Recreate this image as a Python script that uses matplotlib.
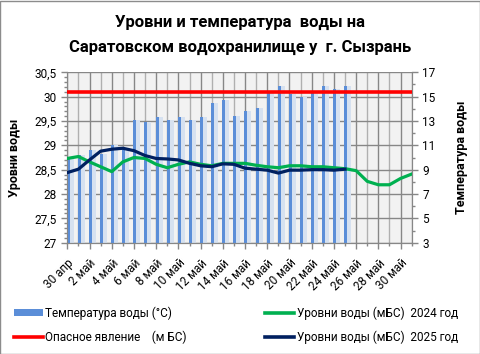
import matplotlib.pyplot as plt
from matplotlib.patches import Rectangle, Patch
from matplotlib.lines import Line2D
from matplotlib.ticker import MultipleLocator, FuncFormatter

plt.rcParams['font.family'] = ['Roboto', 'DejaVu Sans']

# dates 30 apr .. 31 may
days = ['30 апр'] + ['%d май' % d for d in range(1, 32)]

# water temperature, deg C (30 apr .. 25 may)
temp = [10.0, 10.2, 10.6, 10.3, 11.0, 10.7, 13.1, 12.9, 13.3, 13.1, 13.3, 13.1, 13.3,
        14.5, 14.7, 13.4, 13.8, 14.1, 15.3, 15.9, 15.2, 15.0, 15.3, 15.9, 15.6, 15.9]

# water levels, m BS
level2024 = [28.73, 28.77, 28.66, 28.56, 28.46, 28.66, 28.75, 28.73, 28.61, 28.54, 28.61,
             28.66, 28.61, 28.58, 28.63, 28.63, 28.63, 28.59, 28.56, 28.54, 28.58, 28.58,
             28.56, 28.56, 28.54, 28.52, 28.48, 28.26, 28.19, 28.19, 28.32, 28.41]
level2025 = [28.44, 28.51, 28.70, 28.88, 28.92, 28.94, 28.89, 28.79, 28.73, 28.72, 28.70,
             28.63, 28.58, 28.56, 28.62, 28.61, 28.53, 28.51, 28.49, 28.43, 28.49, 28.49,
             28.50, 28.50, 28.49, 28.51]
danger = [30.1] * len(days)

fig = plt.figure(figsize=(4.81, 3.54), dpi=100)
fig.patches.append(Rectangle((0.001, 0.001), 0.997, 0.996, transform=fig.transFigure,
                             fill=False, edgecolor='#8c8c8c', lw=1))

rect = [67.3 / 481, 1 - 242.7 / 354, (411.7 - 67.3) / 481, (242.7 - 72.3) / 354]
ax_t = fig.add_axes(rect)
ax_l = ax_t.twinx()

# temperature bars (right axis)
xt = list(range(len(temp)))
ax_t.bar([x + 0.3 for x in xt], temp, width=0.55, bottom=0, color='#d6e1f0', zorder=2)
ax_t.bar([x + 0.08 for x in xt], temp, width=0.27, color='#5b8ed8', zorder=3)
ax_t.set_facecolor('#f2f2f2')
ax_t.set_ylim(3, 17)
ax_t.set_yticks(range(3, 18, 2))
ax_t.yaxis.set_minor_locator(MultipleLocator(1))
ax_t.yaxis.tick_right()
ax_t.yaxis.set_label_position('right')
ax_t.set_ylabel('Температура воды', fontsize=9, fontweight='bold', labelpad=14)
ax_t.set_axisbelow(True)
ax_t.grid(axis='y', which='major', color='#878787', lw=1)
ax_t.grid(axis='x', which='major', color='#878787', lw=1)
ax_t.grid(axis='x', which='minor', color='#b0b0b0', lw=1)

ax_t.set_xlim(0, len(days) - 1)
ax_t.xaxis.set_minor_locator(MultipleLocator(1))
ax_t.set_xticks(range(0, len(days), 2))
ax_t.set_xticklabels(days[::2], rotation=45, ha='right', rotation_mode='anchor', fontsize=8.5)

# levels (left axis)
xl = range(len(days))
ax_l.plot(xl, danger, color='#ff0000', lw=2.6, zorder=4)
ax_l.plot(xl, level2024, color='#00b050', lw=2.3, zorder=5)
ax_l.plot(range(len(level2025)), level2025, color='#002060', lw=2.3, zorder=6)
ax_l.set_ylim(27, 30.5)
ax_l.yaxis.set_major_locator(MultipleLocator(0.5))
ax_l.yaxis.set_minor_locator(MultipleLocator(0.1))
ax_l.yaxis.tick_left()
ax_l.yaxis.set_label_position('left')
ax_l.yaxis.set_major_formatter(FuncFormatter(lambda v, p: ('%g' % v).replace('.', ',')))
ax_l.set_ylabel('Уровни воды', fontsize=9, fontweight='bold', labelpad=10)

for a in (ax_t, ax_l):
    a.tick_params(which='major', length=4, width=1, color='#878787', labelsize=8.5)
    a.tick_params(which='minor', length=2.5, width=1, color='#878787')
    for s in a.spines.values():
        s.set_color('#878787')
    a.spines['top'].set_visible(False)
ax_t.tick_params(axis='x', pad=6)

fig.text(0.5, 1 - 22 / 354, 'Уровни и температура  воды на', ha='center', va='center',
         fontsize=12, fontweight='bold')
fig.text(0.5, 1 - 47 / 354, 'Саратовском водохранилище у  г. Сызрань', ha='center', va='center',
         fontsize=12, fontweight='bold')

handles = [Patch(facecolor='#5b8ed8'),
           Line2D([], [], color='#ff0000', lw=2.6),
           Line2D([], [], color='#00b050', lw=2.6),
           Line2D([], [], color='#002060', lw=2.6)]
labels = ['Температура воды (°C)', 'Опасное явление    (м БС)',
          'Уровни воды (мБС)  2024 год', 'Уровни воды (мБС)  2025 год']
fig.legend(handles, labels, ncol=2, loc='center', bbox_to_anchor=(0.49, 1 - 325 / 354),
           frameon=False, fontsize=8.5, handlelength=2.5, handleheight=0.6, handletextpad=0.2,
           columnspacing=6.6, labelspacing=0.9)

fig.savefig('out.png', dpi=100)
